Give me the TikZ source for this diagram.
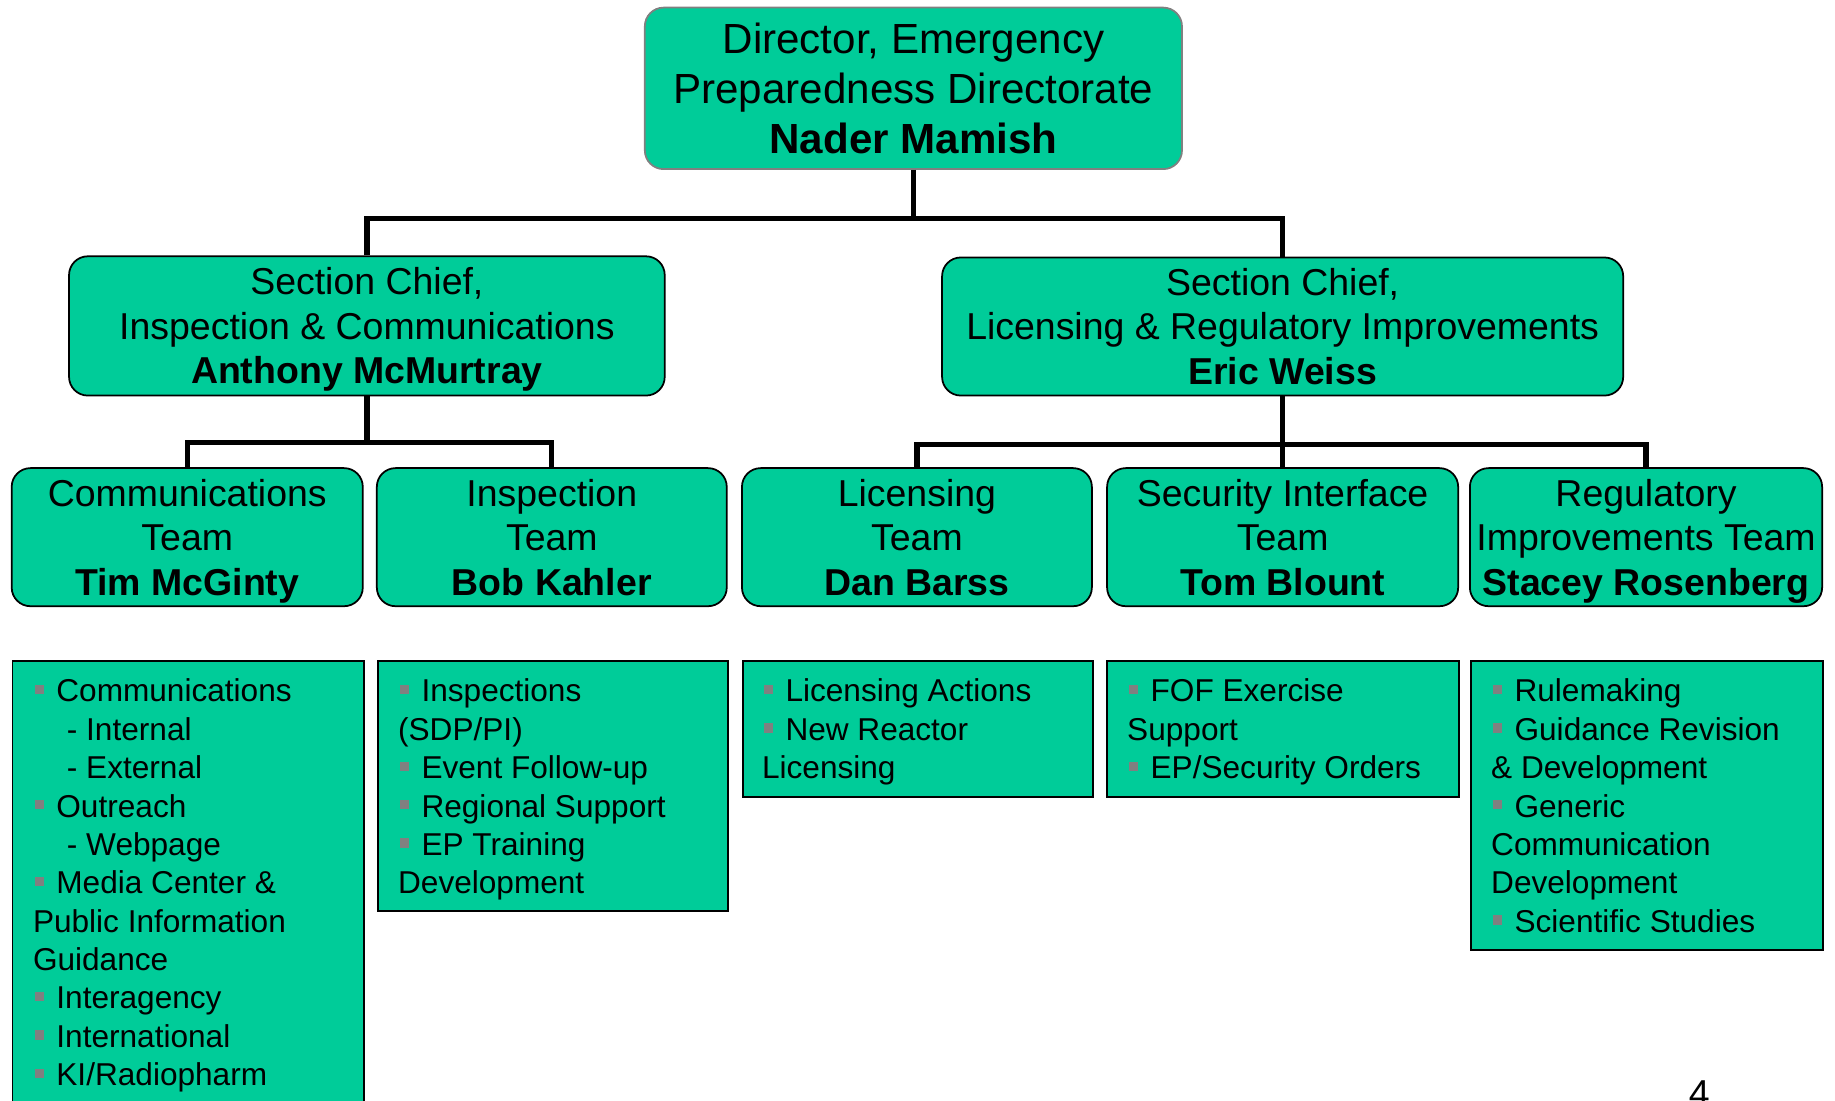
\documentclass[tikz,border=0pt]{standalone}
\usepackage{fontspec}
\setmainfont{Liberation Sans}
\definecolor{boxgreen}{RGB}{0,204,153}
\definecolor{bulgray}{RGB}{128,128,128}
\definecolor{dirborder}{RGB}{128,128,128}
\newcommand{\bul}{\makebox[20pt][l]{\hspace{1.5pt}\textcolor{bulgray}{\rule[6.5pt]{8pt}{8pt}}}}
\newcommand{\subit}{\hspace{29pt}- }
\newcommand{\tops}{\rule{0pt}{0.966em}}
\newcommand{\bots}{\rule[-0.25em]{0pt}{0.25em}}
\begin{document}
\begin{tikzpicture}[x=1pt,y=-1pt,
  orgbox/.style={draw=black, line width=1.5pt, fill=boxgreen, rounded corners=16pt, align=center, inner sep=0pt},
  dirbox/.style={orgbox, draw=dirborder, font=\fontsize{36}{42.5}\selectfont},
  secbox/.style={orgbox, font=\fontsize{32}{38}\selectfont},
  teambox/.style={orgbox, font=\fontsize{32}{38}\selectfont, minimum height=118pt},
  listbox/.style={draw=black, line width=1.5pt, fill=boxgreen, rectangle, inner sep=0pt, anchor=north west, minimum width=300pt},
  listtext/.style={anchor=north west, align=left, inner sep=0pt, font=\fontsize{27}{32.8}\selectfont},
  conn/.style={line width=4.5pt}]
\useasboundingbox (0,0) rectangle (1568,940);

% top
\node[dirbox, minimum width=459pt, minimum height=138pt] (dir) at (780.5,75.5)
  {\tops Director, Emergency\\Preparedness Directorate\\\textbf{Nader Mamish}\bots};

% section chiefs
\node[secbox, minimum width=509pt, minimum height=119pt] (secL) at (313.5,278.5)
  {\tops Section Chief,\\Inspection \& Communications\\\textbf{Anthony McMurtray}\bots};
\node[secbox, minimum width=582pt, minimum height=118pt] (secR) at (1096,279)
  {\tops Section Chief,\\Licensing \& Regulatory Improvements\\\textbf{Eric Weiss}\bots};

% teams
\node[teambox, minimum width=300pt] (t1) at (160,459) {\tops Communications\\Team\\\textbf{Tim McGinty}\bots};
\node[teambox, minimum width=299pt] (t2) at (471.5,459) {\tops Inspection\\Team\\\textbf{Bob Kahler}\bots};
\node[teambox, minimum width=299pt] (t3) at (783.5,459) {\tops Licensing\\Team\\\textbf{Dan Barss}\bots};
\node[teambox, minimum width=300pt] (t4) at (1096,459) {\tops Security Interface\\Team\\\textbf{Tom Blount}\bots};
\node[teambox, minimum width=301pt] (t5) at (1406.5,459) {\tops Regulatory\\Improvements Team\\\textbf{Stacey Rosenberg}\bots};

% connectors
\coordinate (j0) at (780.5,187);
\coordinate (j1) at (313.5,378);
\coordinate (j2) at (1096,380);
\draw[conn] (dir.south) -- (j0);
\draw[conn] (secL.north) |- (j0) -| (secR.north);
\draw[conn] (secL.south) -- (j1);
\draw[conn] (t1.north) |- (j1) -| (t2.north);
\draw[conn] (secR.south) -- (j2);
\draw[conn] (t3.north) |- (j2) -| (t5.north);
\draw[conn] (t4.north) -- (j2);

% list boxes
\node[listbox, minimum height=400pt] (b1) at (10,564) {};
\node[listbox, minimum height=214pt, minimum width=299pt] (b2) at (322,564) {};
\node[listbox, minimum height=116pt, minimum width=299pt] (b3) at (634,564) {};
\node[listbox, minimum height=116pt, minimum width=301pt] (b4) at (945,564) {};
\node[listbox, minimum height=247pt, minimum width=301pt] (b5) at (1256,564) {};

\node[listtext] (l1) at ([shift={(18,16)}]b1.north west)
  {\bul Communications\\
   \subit Internal\\
   \subit External\\
   \bul Outreach\\
   \subit Webpage\\
   \bul Media Center \&\\
   Public Information\\
   Guidance\\
   \bul Interagency\\
   \bul International\\
   \bul KI/Radiopharm};
\node[listtext] (l2) at ([shift={(18,16)}]b2.north west)
  {\bul Inspections\\
   (SDP/PI)\\
   \bul Event Follow-up\\
   \bul Regional Support\\
   \bul EP Training\\
   Development};
\node[listtext] (l3) at ([shift={(17,16)}]b3.north west)
  {\bul Licensing Actions\\
   \bul New Reactor\\
   Licensing};
\node[listtext] (l4) at ([shift={(18,16)}]b4.north west)
  {\bul FOF Exercise\\
   Support\\
   \bul EP/Security Orders};
\node[listtext] (l5) at ([shift={(18,16)}]b5.north west)
  {\bul Rulemaking\\
   \bul Guidance Revision\\
   \& Development\\
   \bul Generic\\
   Communication\\
   Development\\
   \bul Scientific Studies};

% page number
\node[font=\fontsize{32}{38}\selectfont, anchor=north, inner sep=0pt] (pg) at (1452,923) {4};
\end{tikzpicture}
\end{document}
